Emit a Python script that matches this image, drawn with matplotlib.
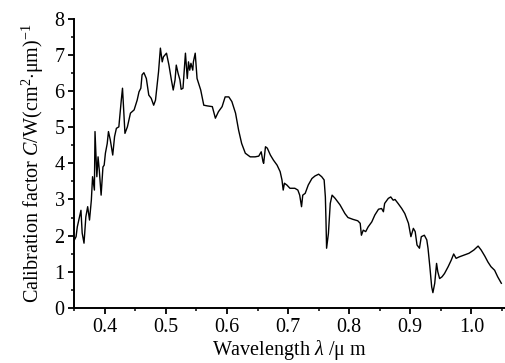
import matplotlib
matplotlib.use("Agg")
import matplotlib.pyplot as plt
from matplotlib.ticker import MultipleLocator

wavelength = [
    0.350, 0.353, 0.355, 0.361, 0.363, 0.366, 0.369, 0.372, 0.375, 0.378,
    0.380, 0.383, 0.384, 0.387, 0.389, 0.391, 0.394, 0.397, 0.399, 0.401,
    0.404, 0.406, 0.409, 0.413, 0.416, 0.419, 0.423, 0.425, 0.427, 0.429,
    0.433, 0.437, 0.442, 0.448, 0.453, 0.456, 0.459, 0.461, 0.464, 0.468,
    0.472, 0.476, 0.480, 0.483, 0.486, 0.488, 0.491, 0.494, 0.496, 0.501,
    0.505, 0.509, 0.512, 0.515, 0.517, 0.520, 0.523, 0.525, 0.528, 0.532,
    0.535, 0.537, 0.539, 0.541, 0.544, 0.545, 0.548, 0.551, 0.557, 0.562,
    0.568, 0.576, 0.581, 0.586, 0.592, 0.597, 0.603, 0.608, 0.614, 0.619,
    0.624, 0.630, 0.638, 0.646, 0.652, 0.656, 0.659, 0.660, 0.663, 0.666,
    0.671, 0.676, 0.682, 0.687, 0.690, 0.692, 0.694, 0.698, 0.703, 0.711,
    0.716, 0.719, 0.722, 0.724, 0.728, 0.733, 0.739, 0.744, 0.750, 0.755,
    0.759, 0.761, 0.762, 0.763, 0.766, 0.769, 0.772, 0.777, 0.785, 0.793,
    0.798, 0.806, 0.814, 0.818, 0.820, 0.823, 0.827, 0.831, 0.837, 0.842,
    0.848, 0.853, 0.856, 0.858, 0.864, 0.868, 0.872, 0.875, 0.880, 0.886,
    0.891, 0.897, 0.901, 0.905, 0.908, 0.911, 0.915, 0.918, 0.923, 0.927,
    0.929, 0.932, 0.935, 0.937, 0.940, 0.943, 0.945, 0.948, 0.952, 0.956,
    0.962, 0.967, 0.971, 0.975, 0.980, 0.988, 0.996, 1.004, 1.011, 1.016,
    1.022, 1.027, 1.032, 1.038, 1.043, 1.049,
]
calib = [
    1.87, 1.97, 2.24, 2.70, 2.07, 1.79, 2.52, 2.80, 2.43, 2.98,
    3.63, 3.26, 4.88, 3.63, 4.18, 3.81, 3.12, 3.90, 3.95, 4.28,
    4.55, 4.88, 4.65, 4.23, 4.74, 4.97, 5.01, 5.39, 5.75, 6.08,
    4.83, 5.01, 5.39, 5.48, 5.75, 5.98, 6.08, 6.45, 6.51, 6.35,
    5.89, 5.80, 5.61, 5.75, 6.22, 6.54, 7.19, 6.81, 6.95, 7.05,
    6.72, 6.31, 6.03, 6.31, 6.72, 6.49, 6.31, 6.05, 6.08, 7.05,
    6.35, 6.81, 6.58, 6.77, 6.58, 6.81, 7.05, 6.35, 6.03, 5.61,
    5.59, 5.57, 5.25, 5.43, 5.57, 5.84, 5.84, 5.71, 5.39, 4.92,
    4.55, 4.28, 4.18, 4.18, 4.20, 4.32, 4.04, 4.00, 4.46, 4.42,
    4.23, 4.09, 3.95, 3.77, 3.54, 3.26, 3.45, 3.40, 3.31, 3.31,
    3.26, 3.12, 2.80, 3.12, 3.17, 3.40, 3.58, 3.65, 3.70, 3.63,
    3.54, 3.07, 2.43, 1.65, 2.06, 2.89, 3.12, 3.03, 2.85, 2.61,
    2.50, 2.45, 2.41, 2.34, 2.01, 2.15, 2.11, 2.24, 2.38, 2.57,
    2.73, 2.75, 2.66, 2.89, 3.03, 3.07, 2.98, 3.00, 2.89, 2.75,
    2.61, 2.34, 1.97, 2.20, 2.11, 1.74, 1.65, 1.97, 2.01, 1.88,
    1.65, 1.14, 0.58, 0.42, 0.68, 1.23, 1.00, 0.81, 0.86, 0.95,
    1.14, 1.32, 1.49, 1.37, 1.41, 1.46, 1.51, 1.60, 1.71, 1.60,
    1.43, 1.27, 1.14, 1.04, 0.86, 0.68,
]

plt.rcParams["font.family"] = "Liberation Serif"
plt.rcParams["mathtext.fontset"] = "custom"
plt.rcParams["mathtext.rm"] = "Liberation Serif"
plt.rcParams["mathtext.it"] = "Liberation Serif:italic"

fig = plt.figure(figsize=(5.05, 3.63), dpi=100)
ax = fig.add_axes([0.147, 0.152, 0.853, 0.796])

ax.plot(wavelength, calib, color="black", linewidth=1.0)

ax.set_xlim(0.35, 1.055)
ax.set_ylim(0, 8)
ax.xaxis.set_major_locator(MultipleLocator(0.1))
ax.xaxis.set_minor_locator(MultipleLocator(0.05))
ax.yaxis.set_major_locator(MultipleLocator(1))
ax.yaxis.set_minor_locator(MultipleLocator(0.5))
ax.set_xticks([0.4, 0.5, 0.6, 0.7, 0.8, 0.9, 1.0])
ax.set_xticklabels(["0.4", "0.5", "0.6", "0.7", "0.8", "0.9", "1.0"])

for side in ["top", "right"]:
    ax.spines[side].set_visible(False)
for side in ["left", "bottom"]:
    ax.spines[side].set_linewidth(1.4)

ax.tick_params(which="major", direction="out", length=4, width=1.3,
               labelsize=14.5, pad=3)
ax.tick_params(which="minor", direction="out", length=2.5, width=1.1)

ax.set_xlabel(r"Wavelength $\it{\lambda}$ /$\mathrm{\mu}$ m", fontsize=14.5, labelpad=1)
ax.set_ylabel(r"Calibration factor $\it{C}$/W(cm$^2$$\cdot$$\mathrm{\mu}$m)$^{-1}$",
              fontsize=14.5, labelpad=6)

fig.savefig("out.png", dpi=100)
